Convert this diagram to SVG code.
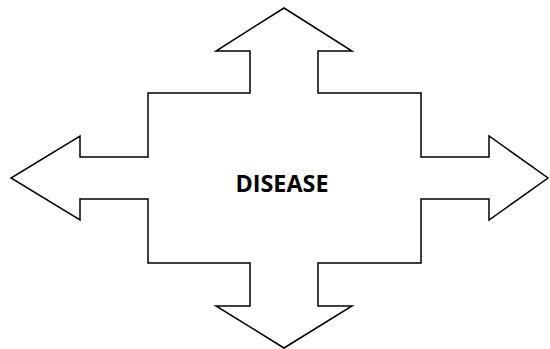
<svg xmlns="http://www.w3.org/2000/svg" width="550" height="349" viewBox="0 0 550 349">
<style>
.shape{fill:#ffffff;stroke:#000000;stroke-width:1.5;stroke-linejoin:miter}
.label{font-family:"Open Sans","Liberation Sans",sans-serif;font-weight:bold;font-size:23px;fill:#000000}
</style>
<rect width="550" height="349" fill="#ffffff"/>
<g id="quad-arrow">
<polygon class="shape" points="284,8 352,51 318,51 318,93 421,93 421,157 489,157 489,136 548,178 489,220 489,199 421,199 421,263 318,263 318,306 352,306 284,348 216,306 250,306 250,263 148,263 148,199 80,199 80,220 11,178 80,136 80,157 148,157 148,93 250,93 250,51 216,51"/>
<text class="label" x="282" y="192" text-anchor="middle" textLength="93" lengthAdjust="spacingAndGlyphs">DISEASE</text>
</g>
<g id="connectors"/>
</svg>
